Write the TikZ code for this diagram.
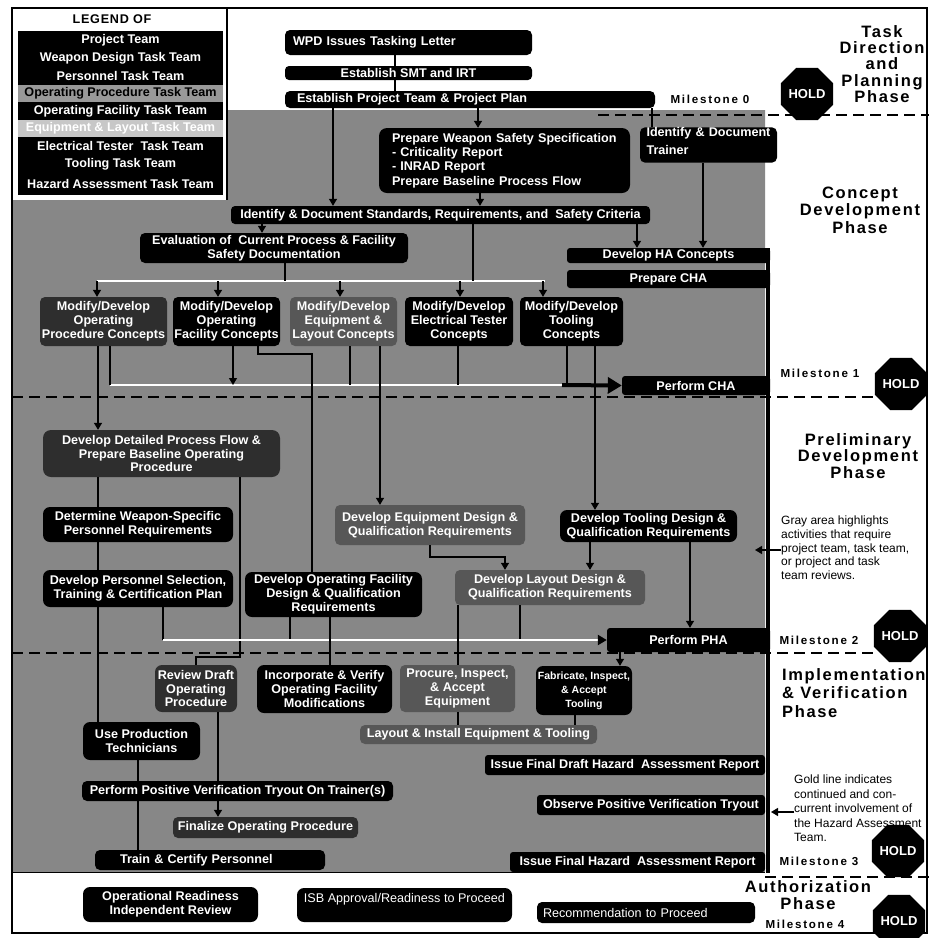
\documentclass[tikz,border=0pt]{standalone}
\usepackage{fontspec}
\setmainfont{Liberation Sans}
\usetikzlibrary{arrows.meta,shapes.geometric}
\newcommand\nfnt{\bfseries\fontsize{12.6}{13.8}\selectfont}
\newcommand\rfnt{\fontsize{12.6}{13.8}\selectfont}
\tikzset{
  pos/.style args={#1/#2/#3/#4}{at={({(#1+#3)/2},{(#2+#4)/2})}, minimum width={(#3)-(#1)}, minimum height={(#4)-(#2)}},
  box/.style={fill=black, rounded corners=5pt, text=white, font=\nfnt, align=center, inner sep=0pt, anchor=center},
  opbox/.style={box, fill=black!82},
  eqbox/.style={box, fill=black!66},
  conn/.style={line width=1.3pt, draw=black},
  arr/.style={conn, -{Triangle[length=7pt,width=8pt]}},
  wconn/.style={line width=2.2pt, draw=white},
  phase/.style={font=\bfseries\fontsize{16.5}{#1}\selectfont\addfontfeature{LetterSpace=10}, align=center, inner sep=0pt},
  mile/.style={font=\bfseries\fontsize{11.6}{13}\selectfont\addfontfeature{LetterSpace=15}, inner sep=0pt},
  hold/.style={regular polygon, regular polygon sides=8, fill=black, text=white, font=\bfseries\fontsize{13}{14}\selectfont, minimum size=47pt, inner sep=0pt},
  note/.style={font=\fontsize{12}{#1}\selectfont, align=left, inner sep=0pt},
  dsh/.style={line width=1.3pt, dash pattern=on 11pt off 6pt},
  legrow/.style={fill=black, text=white, font=\nfnt, minimum width=205pt, minimum height=17.9pt, inner sep=0pt},
}
\begin{document}
\begin{tikzpicture}[x=1pt,y=-1pt]
\useasboundingbox (0,0) rectangle (929,938);
\fill[white] (0,0) rectangle (929,938);
% gray review area
\fill[black!47] (227,110) -- (765,110) -- (765,872) -- (12,872) -- (12,200) -- (227,200) -- cycle;
% frame
\draw[line width=1.2pt] (12,8) rectangle (927,933);
\draw[line width=1.2pt] (227,8) -- (227,200);
\draw[line width=1pt] (12,872) -- (765,872);
% phase separators
\draw[dsh] (598,115) -- (929,115);
\draw[dsh] (12,397) -- (878,397);
\draw[dsh] (12,653) -- (878,653);
\draw[dsh] (765,877) -- (929,877);
% gold line
\coordinate (gtop) at (768,248);
\coordinate (gbot) at (768,873);
\draw[line width=4.5pt] (gtop) -- (gbot);

% legend
\node[font=\bfseries\fontsize{12.6}{13}\selectfont\addfontfeature{LetterSpace=6}] (legt) at (112,19) {LEGEND OF};
\fill[black] (18,31) rectangle (223,195);
\node[legrow] (lg1) at (120.5,40) {Project Team};
\node[legrow] (lg2) at (120.5,58) {Weapon Design Task Team};
\node[legrow] (lg3) at (120.5,76) {Personnel Task Team};
\node[legrow, fill=black!40, text=black] (lg4) at (120.5,93.5) {Operating Procedure Task Team};
\node[legrow] (lg5) at (120.5,111) {Operating Facility Task Team};
\node[legrow, fill=black!22, text=white] (lg6) at (120.5,128.5) {Equipment \& Layout Task Team};
\node[legrow] (lg7) at (120.5,146) {Electrical Tester\ \ Task Team};
\node[legrow] (lg8) at (120.5,164) {Tooling Task Team};
\node[legrow, minimum height=21pt] (lg9) at (120.5,183.5) {Hazard Assessment Task Team};

% task direction
\node[box, pos=285/30/532/55, text width=231pt, align=left] (wpd) {WPD Issues Tasking Letter};
\node[box, rounded corners=4pt, pos=285/66/532/80] (smt) {Establish SMT and IRT};
\node[box, pos=285/91/655/108, text width=346pt, align=left] (ept) {Establish Project Team \& Project Plan};
\node[box, rounded corners=8pt, pos=379/128/630/193, text width=225pt, align=left, font=\bfseries\fontsize{12.6}{14.3}\selectfont] (pws) {Prepare Weapon Safety Specification\\- Criticality Report\\- INRAD Report\\Prepare Baseline Process Flow};
\node[box, pos=640/128/777/162, text width=124pt, align=left, font=\bfseries\fontsize{12.6}{8}\selectfont] (trainer) {\raisebox{8pt}{Identify \& Document}\\\raisebox{8pt}{Trainer}};

% concept development
\node[box, rounded corners=4pt, pos=231/206/650/224] (idstd) {Identify \& Document Standards, Requirements, and\ \ Safety Criteria};
\node[box, pos=140/233/408/263] (eval) {Evaluation of\ \ Current Process \& Facility\\Safety Documentation};
\node[box, rounded corners=3pt, pos=567/248/770/263] (haconc) {Develop HA Concepts};
\node[box, rounded corners=3pt, pos=567/270/770/288] (prepcha) {Prepare CHA};
\node[opbox, pos=40/297/167/346] (mop) {Modify/Develop\\Operating\\Procedure Concepts};
\node[box, pos=173/297/280/346] (mfac) {Modify/Develop\\Operating\\Facility Concepts};
\node[eqbox, pos=290/297/397/346] (meq) {Modify/Develop\\Equipment \&\\Layout Concepts};
\node[box, pos=405/297/513/346] (mel) {Modify/Develop\\Electrical Tester\\Concepts};
\node[box, pos=520/297/623/346] (mtool) {Modify/Develop\\Tooling\\Concepts};
\node[box, rounded corners=3pt, pos=622/376/770/395] (perfcha) {Perform CHA};

% preliminary development
\node[opbox, rounded corners=8pt, pos=43/430/280/477] (procflow) {Develop Detailed Process Flow \&\\Prepare Baseline Operating\\Procedure};
\node[box, rounded corners=7pt, pos=43/507/233/542] (determine) {Determine Weapon-Specific\\Personnel Requirements};
\node[box, rounded corners=7pt, pos=43/570/233/607] (persel) {Develop Personnel Selection,\\Training \& Certification Plan};
\node[box, rounded corners=7pt, pos=245/572/422/617] (opfac) {Develop Operating Facility\\Design \& Qualification\\Requirements};
\node[eqbox, pos=335/505/525/545] (eqdes) {Develop Equipment Design \&\\Qualification Requirements};
\node[box, rounded corners=7pt, pos=560/510/737/542] (tooldes) {Develop Tooling Design \&\\Qualification Requirements};
\node[eqbox, pos=455/570/645/605] (laydes) {Develop Layout Design \&\\Qualification Requirements};
\node[box, rounded corners=3pt, pos=607/628/770/652] (perfpha) {Perform PHA};

% implementation & verification
\node[opbox, rounded corners=7pt, pos=155/665/237/712] (review) {Review Draft\\Operating\\Procedure};
\node[box, rounded corners=7pt, pos=257/665/392/713] (incorp) {Incorporate \& Verify\\Operating Facility\\Modifications};
\node[eqbox, pos=400/665/515/712] (procure) {Procure, Inspect,\\\& Accept\\Equipment};
\node[box, rounded corners=7pt, pos=536/666/632/715, font=\bfseries\fontsize{10.5}{14}\selectfont] (fab) {Fabricate, Inspect,\\\& Accept\\Tooling};
\node[box, rounded corners=7pt, pos=83/722/200/760] (useprod) {Use Production\\Technicians};
\node[eqbox, pos=360/725/597/744] (layinst) {Layout \& Install Equipment \& Tooling};
\node[box, pos=82/781/393/801] (ppv) {Perform Positive Verification Tryout On Trainer(s)};
\node[opbox, pos=173/817/358/838] (finalize) {Finalize Operating Procedure};
\node[box, pos=95/850/325/870, text width=180pt, align=left] (train) {Train \& Certify Personnel};
\node[box, rounded corners=3pt, pos=485/755/765/775] (ifd) {Issue Final Draft Hazard\ \ Assessment Report};
\node[box, rounded corners=3pt, pos=537/795/765/815] (observe) {Observe Positive Verification Tryout};
\node[box, rounded corners=3pt, pos=510/852/765/872] (ifr) {Issue Final Hazard\ \ Assessment Report};

% authorization
\node[box, rounded corners=7pt, pos=83/887/258/922] (ori) {Operational Readiness\\Independent Review};
\node[box, rounded corners=7pt, font=\rfnt, pos=297/888/512/922] (isb) {\raisebox{14pt}{ISB Approval/Readiness to Proceed}};
\node[box, rounded corners=5pt, font=\rfnt, pos=537/902/755/923, text width=206pt, align=left] (recomm) {Recommendation to Proceed};

% phase labels
\node[phase=16.2] (ph1) at (882,64) {Task\\Direction\\and\\Planning\\Phase};
\node[phase=17.5] (ph2) at (860,210) {Concept\\Development\\Phase};
\node[phase=16.5] (ph3) at (858,456) {Preliminary\\Development\\Phase};
\node[phase=18.5, align=left, anchor=west] (ph4) at (782,693) {Implementation\\\& Verification\\Phase};
\node[phase=17] (ph5) at (808,895) {Authorization\\Phase};

% milestones
\node[mile] (m0) at (710,99) {Milestone 0};
\node[mile] (m1) at (820,373) {Milestone 1};
\node[mile] (m2) at (819,640) {Milestone 2};
\node[mile] (m3) at (819,861) {Milestone 3};
\node[mile] (m4) at (805,924) {Milestone 4};
\node[hold, minimum size=42pt] (h0) at (807,94) {HOLD};
\node[hold] (h1) at (901,384) {HOLD};
\node[hold] (h2) at (900,636) {HOLD};
\node[hold] (h3) at (898,851) {HOLD};
\node[hold] (h4) at (899,921) {HOLD};

% notes
\node[note=13.6, anchor=north west] (graynote) at (781,516) {Gray area highlights\\activities that require\\project team, task team,\\or project and task\\team reviews.};
\node[note=14.5, anchor=north west] (goldnote) at (794,775) {Gold line indicates\\continued and con-\\current involvement of\\the Hazard Assessment\\Team.};
\coordinate (ga) at (755,550);
\draw[arr] (graynote.west |- ga) -- (ga);
\coordinate (gla) at (771,812);
\draw[arr] (goldnote.west |- gla) -- (gla);

% connectors: task direction
\draw[conn] (wpd.south -| 395,0) -- (smt.north -| 395,0);
\draw[conn] (smt.south -| 395,0) -- (ept.north -| 395,0);
\draw[arr] (ept.south -| 333,0) -- (idstd.north -| 333,0);
\draw[arr] (ept.south -| 478,0) -- (pws.north -| 478,0);
\draw[conn] (ept.south -| 652,0) -- (trainer.north -| 652,0);
\draw[arr] (pws.south -| 480,0) -- (idstd.north -| 480,0);
\draw[arr] (idstd.south -| 262,0) -- (eval.north -| 262,0);
\draw[arr] (idstd.south -| 637,0) -- (haconc.north -| 637,0);
\draw[arr] (trainer.south -| 703,0) -- (haconc.north -| 703,0);

% distribution to concept boxes
\coordinate (dL) at (97,281);
\coordinate (dR) at (545,281);
\draw[wconn] (dL) -- (dR);
\draw[conn] (idstd.south -| 473,0) -- (dR -| 473,0);
\draw[conn] (eval.south -| 285,0) -- (dL -| 285,0);
\foreach \n/\x in {mop/97,mfac/218,meq/340,mel/460,mtool/543}
  \draw[arr] (dL -| \x,0) -- (\n.north -| \x,0);

% collector to Perform CHA
\coordinate (cL) at (110,385);
\coordinate (cR) at (562,385);
\draw[wconn] (cL) -- (cR);
\draw[conn] (mop.south -| cL) -- (cL);
\draw[arr] (mfac.south -| 233,0) -- (cL -| 233,0);
\draw[conn] (meq.south -| 350,0) -- (cL -| 350,0);
\draw[conn] (mel.south -| 458,0) -- (cL -| 458,0);
\draw[conn] (mtool.south -| 567,0) -- (cR -| 567,0);
\draw[line width=4pt, -{Triangle[length=14pt,width=16pt]}] (cR) -- (perfcha.west);

% preliminary development connectors
\draw[arr] (mop.south -| 98,0) -- (procflow.north -| 98,0);
\draw[conn] (procflow.south -| 98,0) -- (determine.north -| 98,0);
\draw[conn] (determine.south -| 98,0) -- (persel.north -| 98,0);
\draw[conn] (persel.south -| 98,0) -- (useprod.north -| 98,0);
\draw[conn] (procflow.south -| 240,0) -- (240,657) -| (review.north -| 196,0);
\draw[conn] (mfac.south -| 258,0) -- (258,354) -| (opfac.north -| 312,0);
\draw[arr] (meq.south -| 380,0) -- (eqdes.north -| 380,0);
\draw[arr] (mtool.south -| 595,0) -- (tooldes.north -| 595,0);
\draw[arr] (eqdes.south -| 430,0) -- (430,557) -| (laydes.north -| 505,0);
\draw[arr] (tooldes.south -| 590,0) -- (laydes.north -| 590,0);

% collector to Perform PHA
\coordinate (pL) at (163,640);
\draw[conn] (persel.south -| pL) -- (pL);
\draw[conn] (opfac.south -| 290,0) -- (pL -| 290,0);
\draw[conn] (laydes.south -| 520,0) -- (pL -| 520,0);
\draw[wconn, -{Triangle[length=9pt,width=10pt,color=black]}] (pL) -- (perfpha.west);
\draw[arr] (tooldes.south -| 690,0) -- (perfpha.north -| 690,0);

% implementation connectors
\draw[conn] (opfac.south -| 330,0) -- (incorp.north -| 330,0);
\draw[conn] (laydes.south -| 458,0) -- (procure.north -| 458,0);
\draw[arr] (perfpha.south -| 620,0) -- (fab.north -| 620,0);
\draw[conn] (procure.south -| 458,0) -- (layinst.north -| 458,0);
\draw[conn] (fab.south -| 575,0) -- (layinst.north -| 575,0);
\draw[conn] (useprod.south -| 138,0) -- (ppv.north -| 138,0);
\draw[conn] (review.south -| 218,0) -- (ppv.north -| 218,0);
\draw[arr] (ppv.south -| 218,0) -- (finalize.north -| 218,0);
\draw[conn] (ppv.south -| 138,0) -- (train.north -| 138,0);
\end{tikzpicture}
\end{document}
